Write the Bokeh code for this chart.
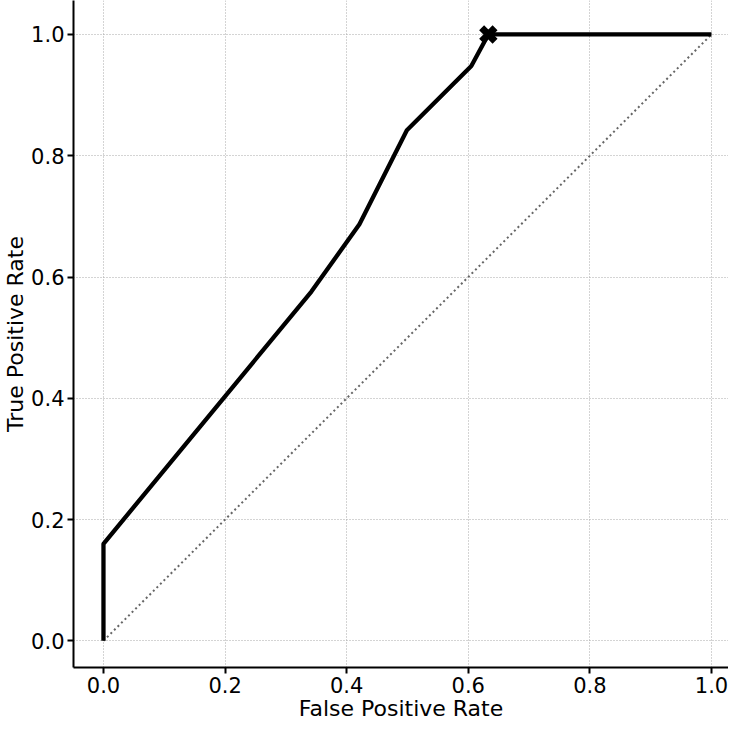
from bokeh.plotting import figure
from bokeh.models import Range1d, FixedTicker, NumeralTickFormatter
from bokeh.embed import file_html
from bokeh.resources import INLINE

# ROC curve values
fpr = [0.0, 0.0, 0.342, 0.421, 0.499, 0.605, 0.633, 1.0]
tpr = [0.0, 0.16, 0.576, 0.687, 0.842, 0.948, 1.0, 1.0]
chance_x = [0.0, 1.0]
chance_y = [0.0, 1.0]
best_fpr = [0.633]
best_tpr = [1.0]
ticks = [0.0, 0.2, 0.4, 0.6, 0.8, 1.0]

FONT = "DejaVu Sans"

p = figure(width=728, height=723, output_backend="svg", toolbar_location=None,
           x_range=Range1d(-0.0493, 1.028), y_range=Range1d(-0.044, 1.056),
           min_border_left=72, min_border_right=0, min_border_top=0, min_border_bottom=40)
p.outline_line_color = None
p.background_fill_color = "white"
p.border_fill_color = "white"

for ax in (p.xaxis, p.yaxis):
    ax.ticker = FixedTicker(ticks=ticks)
    ax.formatter = NumeralTickFormatter(format="0.0")
    ax.axis_line_color = "black"
    ax.axis_line_width = 2
    ax.major_tick_line_color = "black"
    ax.major_tick_line_width = 2
    ax.major_tick_out = 6
    ax.major_tick_in = 0
    ax.minor_tick_line_color = None
    ax.major_label_text_font = FONT
    ax.major_label_text_font_size = "21px"
    ax.major_label_text_color = "black"
    ax.axis_label_text_font = FONT
    ax.axis_label_text_font_size = "22px"
    ax.axis_label_text_font_style = "normal"
    ax.axis_label_text_color = "black"
    ax.major_label_standoff = 3
    ax.axis_label_standoff = 0

p.xaxis.axis_label = "False Positive Rate"
p.yaxis.axis_label = "True Positive Rate"

p.grid.ticker = FixedTicker(ticks=ticks)
p.grid.grid_line_color = "#a8a8a8"
p.grid.grid_line_width = 1
p.grid.grid_line_dash = "1 2"

p.line(chance_x, chance_y, line_color="#666666", line_width=2, line_dash="2 3")
p.line(fpr, tpr, line_color="black", line_width=4.3)
p.scatter(best_fpr, best_tpr, marker="x", size=19, line_color="black", line_width=7)

open("out.html", "w").write(file_html(p, INLINE))
